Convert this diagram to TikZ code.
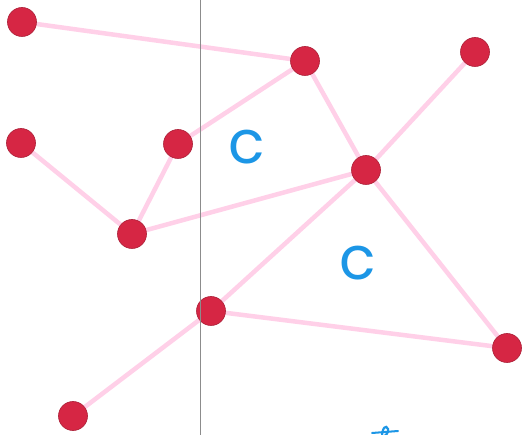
\documentclass[tikz,border=0pt]{standalone}
\usepackage{fontspec}
\usetikzlibrary{backgrounds}
\newfontfamily\handfont{Poppins}
\definecolor{nodered}{RGB}{214,38,68}
\definecolor{edgepink}{RGB}{255,208,232}
\definecolor{handblue}{RGB}{28,150,230}
\tikzset{
  vtx/.style={circle,fill=nodered,draw=nodered!80!black,line width=0.6pt,minimum size=29pt,inner sep=0pt},
  edg/.style={draw=edgepink,line width=4.5pt},
  handtext/.style={text=handblue,font=\handfont\fontsize{60}{60}\selectfont,inner sep=0pt},
  rule/.style={draw=black!45,line width=0.9pt}
}
\begin{document}
\begin{tikzpicture}[x=1pt,y=-1pt]
\useasboundingbox (0,0) rectangle (525,435);
% nodes
\node[vtx] (n1) at (22,22) {};
\node[vtx] (n2) at (305,61) {};
\node[vtx] (n3) at (475,52) {};
\node[vtx] (n4) at (21,143) {};
\node[vtx] (n5) at (178,144) {};
\node[vtx] (n6) at (366,170) {};
\node[vtx] (n7) at (132,234) {};
\node[vtx] (n8) at (211,311) {};
\node[vtx] (n9) at (507,348) {};
\node[vtx] (n10) at (73,416) {};
% labels
\node[handtext] (c1) at (247,147) {c};
\node[handtext] (c2) at (358,263) {c};
% edges
\begin{scope}[on background layer]
\fill[white] (0,0) rectangle (525,435);
\draw[edg] (n1) -- (n2);
\draw[edg] (n2) -- (n5);
\draw[edg] (n2) -- (n6);
\draw[edg] (n3) -- (n6);
\draw[edg] (n4) -- (n7);
\draw[edg] (n7) -- (n5);
\draw[edg] (n7) -- (n6);
\draw[edg] (n6) -- (n8);
\draw[edg] (n6) -- (n9);
\draw[edg] (n8) -- (n9);
\draw[edg] (n8) -- (n10);
\end{scope}
% vertical line
\coordinate (vtop) at (200,0);
\coordinate (vbot) at (200,435);
\draw[rule] (vtop) -- (vbot);
% partial mark at bottom
\draw[handblue,line width=2.2pt,line cap=round] (382,437) .. controls (382,428) and (386,424) .. (388,429) .. controls (389,433) and (385,436) .. (383,437);
\draw[handblue,line width=2pt,line cap=round] (372,433) -- (398,431);
\end{tikzpicture}
\end{document}
